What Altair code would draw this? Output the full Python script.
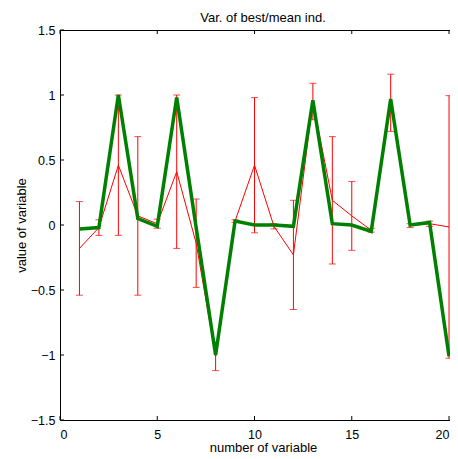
import altair as alt
import pandas as pd

# ---- data ----
var_idx = list(range(1, 21))
best_vals = [-0.03, -0.02, 1.00, 0.05, -0.01, 0.98, -0.02, -1.00, 0.03, 0.00,
             0.00, -0.01, 0.96, 0.01, 0.00, -0.05, 0.97, 0.00, 0.02, -1.01]
mean_vals = [-0.18, -0.02, 0.46, 0.07, 0.01, 0.41, -0.14, -1.01, 0.03, 0.46,
             -0.01, -0.23, 0.95, 0.19, 0.07, -0.04, 0.94, -0.005, 0.01, -0.015]
std_vals = [0.36, 0.06, 0.54, 0.61, 0.035, 0.59, 0.34, 0.11, 0.01, 0.52,
            0.02, 0.42, 0.14, 0.49, 0.265, 0.015, 0.22, 0.015, 0.02, 1.01]

x_ticks = [0, 5, 10, 15, 20]
y_ticks = [-1.5, -1, -0.5, 0, 0.5, 1, 1.5]
title_text = "Var. of best/mean ind."

df = pd.DataFrame({"x": var_idx, "best": best_vals, "mean": mean_vals, "std": std_vals})
df["lo"] = df["mean"] - df["std"]
df["hi"] = df["mean"] + df["std"]

xt = pd.DataFrame({"v": x_ticks})
yt = pd.DataFrame({"v": y_ticks})

W, H = 390, 390
FONT = "Liberation Sans"
TL = 4  # inward tick length

xs = alt.Scale(domain=[0, 20.05], nice=False, zero=False)
ys = alt.Scale(domain=[-1.5, 1.5], nice=False, zero=False)

xaxis = alt.Axis(values=x_ticks, title="number of variable", ticks=False, domain=True,
                 domainColor="black", domainWidth=1,
                 grid=False, labelPadding=8, labelFontSize=12.5, labelFont=FONT,
                 labelColor="black", titleFont=FONT, titleFontSize=13,
                 titleFontWeight="normal", titleColor="black", titleX=203,
                 titleY=31, titleBaseline="alphabetic", format="~g")
yaxis = alt.Axis(values=y_ticks, title="value of variable", ticks=False, domain=True,
                 domainColor="black", domainWidth=1,
                 grid=False, labelPadding=5, labelFontSize=12.5, labelFont=FONT,
                 labelColor="black", titleFont=FONT, titleFontSize=13,
                 titleFontWeight="normal", titleColor="black", titleX=-35,
                 titleY=H / 2, titleBaseline="alphabetic", format="~g")

base = alt.Chart(df)

mean_line = base.mark_line(color="#ff0000", strokeWidth=1).encode(
    x=alt.X("x:Q", scale=xs, axis=xaxis),
    y=alt.Y("mean:Q", scale=ys, axis=yaxis),
)
err_rule = base.mark_rule(color="#ff0000", strokeWidth=1).encode(
    x=alt.X("x:Q", scale=xs, axis=xaxis),
    y=alt.Y("lo:Q", scale=ys, axis=yaxis),
    y2="hi:Q",
)
cap_lo = base.mark_tick(color="#ff0000", orient="horizontal", size=7, thickness=1).encode(
    x=alt.X("x:Q", scale=xs, axis=xaxis),
    y=alt.Y("lo:Q", scale=ys, axis=yaxis),
)
cap_hi = base.mark_tick(color="#ff0000", orient="horizontal", size=7, thickness=1).encode(
    x=alt.X("x:Q", scale=xs, axis=xaxis),
    y=alt.Y("hi:Q", scale=ys, axis=yaxis),
)
best_line = base.mark_line(color="#008000", strokeWidth=3.5).encode(
    x=alt.X("x:Q", scale=xs, axis=xaxis),
    y=alt.Y("best:Q", scale=ys, axis=yaxis),
)

tick_style = dict(color="black", strokeWidth=1)
t_left = alt.Chart(yt).mark_rule(**tick_style).encode(
    y=alt.Y("v:Q", scale=ys, axis=yaxis), x=alt.value(0), x2=alt.value(TL))
t_bottom = alt.Chart(xt).mark_rule(**tick_style).encode(
    x=alt.X("v:Q", scale=xs, axis=xaxis), y=alt.value(H), y2=alt.value(H - TL))
t_top = alt.Chart(xt).mark_rule(**tick_style).encode(
    x=alt.X("v:Q", scale=xs, axis=xaxis), y=alt.value(0), y2=alt.value(TL))
top_line = alt.Chart(xt).mark_rule(**tick_style).encode(
    x=alt.value(0), x2=alt.value(W), y=alt.value(0.5))

title_mark = alt.Chart(pd.DataFrame({"t": [title_text]})).mark_text(
    font=FONT, fontSize=13, color="black", align="center", baseline="alphabetic"
).encode(text="t:N", x=alt.value(203), y=alt.value(-8.5))

chart = alt.layer(
    mean_line, err_rule, cap_lo, cap_hi, best_line, t_left, t_bottom, t_top,
    top_line, title_mark
).properties(
    width=W,
    height=H,
    autosize=alt.AutoSizeParams(type="none"),
    padding={"left": 52, "top": 22, "right": 0, "bottom": 35},
).configure_view(
    stroke="transparent", strokeWidth=0
).configure(background="white")

chart.save("out.html", embed_options={"renderer": "svg", "actions": False})
